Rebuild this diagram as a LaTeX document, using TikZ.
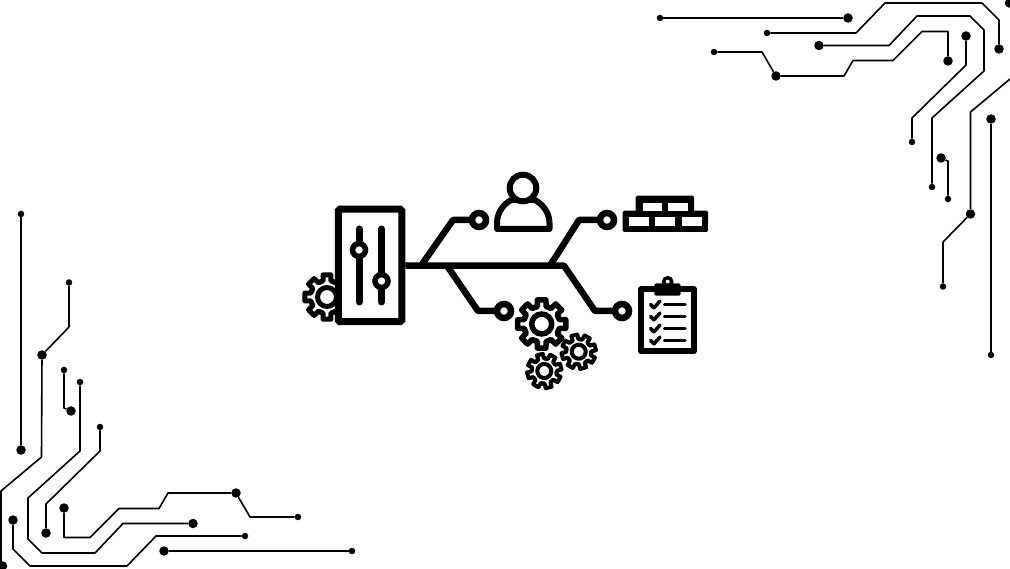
\documentclass[tikz,border=0pt]{standalone}
\usepackage{amssymb,latexsym,amsmath}
\usepackage{tikz}
\usetikzlibrary{positioning}

% x, y, outer radius, root radius, ring radius, rotation, line width
\newcommand{\gearicon}[7]{
	\begin{scope}[shift={(#1,#2)},rotate=#6]
		\foreach \a in {0,45,...,315}
			\draw[line width=#7pt,line join=round,line cap=round] (\a-22.5:#4) -- (\a-14:#4) -- (\a-10:#3) -- (\a+10:#3) -- (\a+14:#4) -- (\a+22.5:#4);
		\draw[line width=#7pt] (0,0) circle (#5);
	\end{scope}
}

\begin{document}
\begin{tikzpicture}[x=1pt,y=-1pt]
	 \tikzstyle{bigdot}=[circle,fill=black,minimum size=9.5pt,inner sep=0pt]
	 \tikzstyle{smalldot}=[circle,fill=black,minimum size=6.5pt,inner sep=0pt]
	 \tikzstyle{trace} = [draw,line width=1.6pt,-,black,line join=round]
	 \tikzstyle{bus} = [draw,line width=6.5pt,-,black,line join=round]
	 \tikzstyle{ring}=[circle,draw,fill=white,line width=6.5pt,minimum size=14pt,inner sep=0pt]
	 \tikzstyle{knob}=[circle,draw,fill=white,line width=5.5pt,minimum size=13pt,inner sep=0pt]
	 \tikzstyle{panel}=[rectangle,draw,fill=white,line width=7pt,rounded corners=1.5pt,minimum width=63.5pt,minimum height=112.5pt,inner sep=0pt]
	 \tikzstyle{slider} = [draw,line width=7pt,-,black,line cap=round]
	 \tikzstyle{brickcell}=[fill=white]
	 \tikzstyle{tick} = [draw,line width=3.5pt,-,black,line cap=round,line join=round]

	 \useasboundingbox (0,0) rectangle (1010,569);

	 % top right
	 \node[smalldot] (ta1) at (660,18) {};
	 \node[bigdot] (ta2) at (848,18) {};
	 \node[smalldot] (tb1) at (767,33) {};
	 \node[bigdot] (tb2) at (999,49) {};
	 \node[bigdot] (tc1) at (819,45.5) {};
	 \node[smalldot] (tc2) at (932,187) {};
	 \node[smalldot] (td1) at (714,52) {};
	 \node[bigdot] (td2) at (776,76) {};
	 \node[bigdot] (td3) at (948,61) {};
	 \node[bigdot] (te1) at (966,36) {};
	 \node[smalldot] (te2) at (912,142) {};
	 \node[bigdot] (tf1) at (970.5,214) {};
	 \node[smalldot] (tf2) at (943,286.5) {};
	 \node[bigdot] (tf3) at (1009.5,3) {};
	 \coordinate (tf4) at (1010,79);
	 \node[bigdot] (tg1) at (991,119) {};
	 \node[smalldot] (tg2) at (991,355) {};
	 \node[bigdot] (th1) at (941,158) {};
	 \node[smalldot] (th2) at (948,199) {};

	 \draw[trace] (ta1) -- (ta2);
	 \draw[trace] (tb1) -- (856,33) -- (885,3) -- (982,3) -- (999,20) -- (tb2);
	 \draw[trace] (tc1) -- (889,45.5) -- (917,16) -- (970,16) -- (984,30) -- (984,71) -- (932,118) -- (tc2);
	 \draw[trace] (td1) -- (762,52) -- (td2) -- (844,76) -- (853,60.5) -- (893,60.5) -- (922,31.5) -- (948,31.5) -- (td3);
	 \draw[trace] (te1) -- (966,65) -- (912,118) -- (te2);
	 \draw[trace] (tf4) -- (970.5,112) -- (tf1) -- (943,242) -- (tf2);
	 \draw[trace] (tg1) -- (tg2);
	 \draw[trace] (th1) -- (948,161) -- (th2);

	 % bottom left
	 \node[smalldot] (ba1) at (352,551) {};
	 \node[bigdot] (ba2) at (164,551) {};
	 \node[smalldot] (bb1) at (245,536) {};
	 \node[bigdot] (bb2) at (13,520) {};
	 \node[bigdot] (bc1) at (193,523.5) {};
	 \node[smalldot] (bc2) at (80,382) {};
	 \node[smalldot] (bd1) at (298,517) {};
	 \node[bigdot] (bd2) at (236,493) {};
	 \node[bigdot] (bd3) at (64,508) {};
	 \node[bigdot] (be1) at (46,533) {};
	 \node[smalldot] (be2) at (100,427) {};
	 \node[bigdot] (bf1) at (42,355) {};
	 \node[smalldot] (bf2) at (69,282.5) {};
	 \node[bigdot] (bf3) at (2.5,566) {};
	 \node[bigdot] (bg1) at (21,450) {};
	 \node[smalldot] (bg2) at (21,214) {};
	 \node[bigdot] (bh1) at (71,411) {};
	 \node[smalldot] (bh2) at (64,370) {};

	 \draw[trace] (ba1) -- (ba2);
	 \draw[trace] (bb1) -- (156,536) -- (127,566) -- (30,566) -- (13,549) -- (bb2);
	 \draw[trace] (bc1) -- (123,523.5) -- (95,553) -- (42,553) -- (28,539) -- (28,498) -- (80,451) -- (bc2);
	 \draw[trace] (bd1) -- (250,517) -- (bd2) -- (168,493) -- (159,508.5) -- (119,508.5) -- (90,537.5) -- (64,537.5) -- (bd3);
	 \draw[trace] (be1) -- (46,504) -- (100,451) -- (be2);
	 \draw[trace] (bf3) -- (1,566) -- (1,491) -- (41.5,457) -- (bf1) -- (69,327) -- (bf2);
	 \draw[trace] (bg1) -- (bg2);
	 \draw[trace] (bh1) -- (64,408) -- (bh2);

	 % gears
	 \gearicon{327}{297}{22.5}{16.5}{9.5}{0}{5}
	 \gearicon{541.7}{324}{24.5}{18}{10}{0}{5.5}
	 \gearicon{578.7}{351.7}{17.3}{12.5}{7}{15}{4}
	 \gearicon{544.3}{371}{17.3}{12.5}{7}{15}{4}

	 % control panel
	 \node[panel] (panel) at (370,265.5) {};
	 \node[knob] (k1) at (359,250) {};
	 \node[knob] (k2) at (381.5,281) {};
	 \draw[slider] (359,229) -- (k1);
	 \draw[slider] (k1) -- (359,302);
	 \draw[slider] (381.5,229) -- (k2);
	 \draw[slider] (k2) -- (381.5,302);

	 % bus
	 \node[ring] (r1) at (479,220) {};
	 \node[ring] (r2) at (504,311) {};
	 \node[ring] (r3) at (607,220) {};
	 \node[ring] (r4) at (622,311) {};
	 \coordinate (j1) at (421,265.7);
	 \coordinate (j2) at (447,265.7);
	 \coordinate (j3) at (550,265.7);
	 \coordinate (j4) at (564,265.7);
	 \draw[bus] (panel.east) -- (j4) -- (595,311) -- (r4);
	 \draw[bus] (j1) -- (453,220) -- (r1);
	 \draw[bus] (j2) -- (478,311) -- (r2);
	 \draw[bus] (j3) -- (579,220) -- (r3);

	 % user
	 \draw[line width=6pt,line join=round,fill=white] (497,229) -- (549.5,229) -- (549.5,223) .. controls (549.5,212) and (542,204) .. (535,200) -- (511,200) .. controls (504,204) and (497,212) .. (497,223) -- cycle;
	 \node[circle,draw,fill=white,line width=6pt,minimum size=26.6pt,inner sep=0pt] (head) at (523,188) {};

	 % bricks
	 \fill[rounded corners=1.5pt] (635.7,195.7) rectangle (694,214);
	 \fill[rounded corners=1.5pt] (622.7,210.7) rectangle (708,232);
	 \fill[brickcell] (642.7,202.7) rectangle (662.3,210.7);
	 \fill[brickcell] (668.3,202.7) rectangle (688.3,210.7);
	 \fill[brickcell] (629.3,217.3) rectangle (649.3,225.7);
	 \fill[brickcell] (655.3,217.3) rectangle (675.3,225.7);
	 \fill[brickcell] (681.7,217.3) rectangle (701.7,225.7);

	 % clipboard
	 \draw[line width=6pt,line join=round,fill=white] (641.3,289) rectangle (693.7,351.3);
	 \node[circle,draw,fill=white,line width=3.5pt,minimum size=8pt,inner sep=0pt] (clip) at (667.7,281.7) {};
	 \fill[rounded corners=1.5pt] (654.3,283.5) rectangle (680.7,295.7);
	 \draw[tick] (650.5,304.3) -- (654,307.8) -- (660,301);
	 \draw[tick] (650.5,316.3) -- (654,319.8) -- (660,313);
	 \draw[tick] (650.5,328.3) -- (654,331.8) -- (660,325);
	 \draw[tick] (650.5,340.3) -- (654,343.8) -- (660,337);
	 \draw[tick] (664.5,304.3) -- (685,304.3);
	 \draw[tick] (664.5,316.3) -- (685,316.3);
	 \draw[tick] (664.5,328.3) -- (685,328.3);
	 \draw[tick] (664.5,340.3) -- (685,340.3);
 \end{tikzpicture}
\end{document}
